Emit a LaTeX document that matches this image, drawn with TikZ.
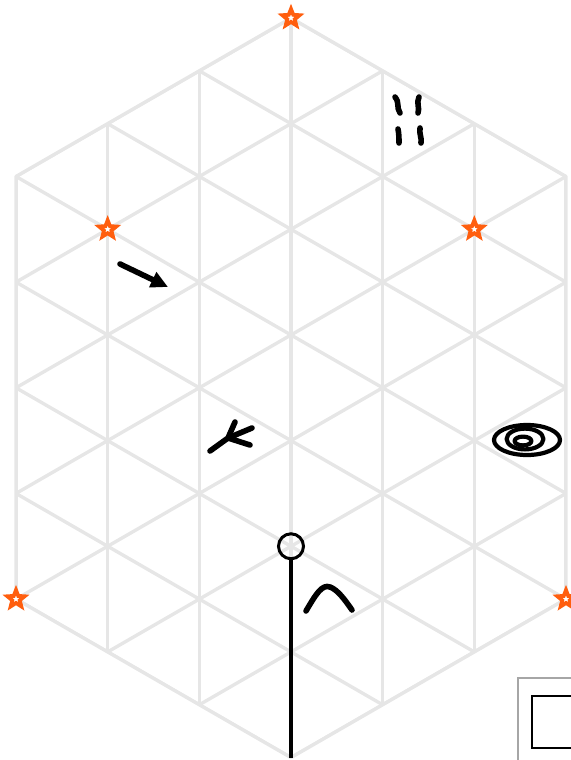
\documentclass[tikz,border=0pt]{standalone}
\usepackage{xcolor}
\usepackage{tikz}
\usetikzlibrary{shapes.geometric,arrows.meta}
\definecolor{gridgray}{HTML}{E6E6E6}
\definecolor{starorange}{HTML}{FF5E0E}
\definecolor{framegray}{HTML}{A6A6A6}

\tikzset{
  gridline/.style={gridgray, line width=0.17cm},
  marker/.style={star, star points=5, star point ratio=2.3, draw=starorange, fill=white, line width=0.19cm, minimum size=0.9cm, inner sep=0pt},
  ink/.style={black, line width=0.28cm, line cap=round, line join=round},
}

\begin{document}
\begin{tikzpicture}[x=0.05cm, y=-0.05cm]
            \useasboundingbox (0,0) rectangle (571,760);
            \clip (0,0) rectangle (571,760);
            \begin{scope}[shift={(16,18)}, x=4.5835cm, y=-2.6415cm]
                \coordinate (T) at (3,0);
                \coordinate (UR) at (6,3);
                \coordinate (LR) at (6,11);
                \coordinate (B) at (3,14);
                \coordinate (LL) at (0,11);
                \coordinate (UL) at (0,3);
                \begin{scope}
                    \clip (T) -- (UR) -- (LR) -- (B) -- (LL) -- (UL) -- cycle;
                    \foreach \i in {0,...,6} \draw[gridline] (\i,-1) -- (\i,15);
                    \foreach \c in {-3,-1,...,11} \draw[gridline] (-1,\c-1) -- (7,\c+7);
                    \foreach \c in {3,5,...,17} \draw[gridline] (-1,\c+1) -- (7,\c-7);
                \end{scope}
                \draw[gridline, line join=round] (T) -- (UR) -- (LR) -- (B) -- (LL) -- (UL) -- cycle;
                \node[marker] (star top) at (T) {};
                \node[marker] (star left) at (1,4) {};
                \node[marker] (star right) at (5,4) {};
                \node[marker] (star low left) at (LL) {};
                \node[marker] (star low right) at (LR) {};
                \node[circle, draw, line width=0.15cm, minimum size=1.25cm, inner sep=0pt] (pinhead) at (3,10) {};
                \draw[line width=0.16cm] (pinhead) -- (B);
            \end{scope}
            \draw[ink] (395,97) .. controls (400,103) and (396,107) .. (400,113);
            \draw[ink] (419,97) .. controls (416,103) and (420,108) .. (418,113);
            \draw[ink] (398,129) .. controls (399,134) and (399,139) .. (399,143);
            \draw[ink] (420,128) .. controls (419,134) and (422,138) .. (421,143);
            \draw[ink, -{Triangle[length=0.85cm, width=0.8cm]}] (120,264) -- (168,287);
            \coordinate (fork) at (228,438);
            \draw[ink] (210,451) -- (fork) -- (235,422);
            \draw[ink] (252,428) -- (fork) -- (250,445);
            \draw[ink, line width=0.21cm] (527,440) ellipse [x radius=1.65cm, y radius=0.75cm];
            \draw[ink, line width=0.21cm] (525,439) ellipse [x radius=0.92cm, y radius=0.52cm];
            \draw[ink, line width=0.21cm] (523,441) ellipse [x radius=0.42cm, y radius=0.22cm];
            \draw[ink] (306,611) .. controls (316,594) and (322,584) .. (330,587) .. controls (338,590) and (345,600) .. (352,610);
            \draw[framegray, line width=0.08cm] (518,678) rectangle (620,800);
            \draw[black, line width=0.1cm] (532,696) rectangle (620,748);
        \end{tikzpicture}
\end{document}
